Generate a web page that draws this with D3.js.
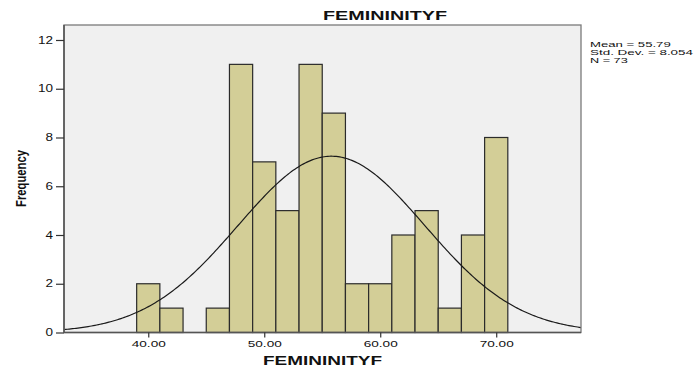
<!DOCTYPE html>
<html>
<head>
<meta charset="utf-8">
<script src="https://cdn.jsdelivr.net/npm/d3@7"></script>
<style>
  html, body { margin: 0; padding: 0; background: #fff; }
  svg { display: block; }
  text { font-family: "Liberation Sans", Arial, sans-serif; fill: #111; }
</style>
</head>
<body>
<svg id="chart" width="697" height="371"></svg>
<script>
// ---- Data ----
const binStarts = [39, 41, 43, 45, 47, 49, 51, 53, 55, 57, 59, 61, 63, 65, 67, 69];
const binWidth = 2;
const frequencies = [2, 1, 0, 1, 11, 7, 5, 11, 9, 2, 2, 4, 5, 1, 4, 8];
const xTicks = [40, 50, 60, 70];
const xTickLabels = ["40.00", "50.00", "60.00", "70.00"];
const yTicks = [0, 2, 4, 6, 8, 10, 12];
const statsMean = 55.79;
const statsSD = 8.054;
const statsN = 73;
const statsLines = ["Mean = 55.79", "Std. Dev. = 8.054", "N = 73"];
const titleText = "FEMININITYF";
const xLabel = "FEMININITYF";
const yLabel = "Frequency";

// ---- Layout ----
const plot = { left: 64, right: 581, top: 25, bottom: 332.5 };
const svg = d3.select("#chart");

const x = d3.scaleLinear().domain([32.735, 77.31]).range([plot.left, plot.right]);
const y = d3.scaleLinear().domain([0, 12.615]).range([plot.bottom, plot.top]);

// background
svg.append("rect")
  .attr("x", plot.left).attr("y", plot.top)
  .attr("width", plot.right - plot.left).attr("height", plot.bottom - plot.top)
  .attr("fill", "#f0f0f0");

// bars
const bins = binStarts.map((s, i) => ({ x0: s, x1: s + binWidth, f: frequencies[i] }));
svg.append("g").selectAll("rect")
  .data(bins.filter(d => d.f > 0))
  .join("rect")
  .attr("x", d => x(d.x0))
  .attr("y", d => y(d.f))
  .attr("width", d => x(d.x1) - x(d.x0))
  .attr("height", d => y(0) - y(d.f))
  .attr("fill", "#d3ce97")
  .attr("stroke", "#2b2b2b")
  .attr("stroke-width", 1.2);

// normal curve from mean / sd / N
const pdf = v => Math.exp(-0.5 * Math.pow((v - statsMean) / statsSD, 2)) / (statsSD * Math.sqrt(2 * Math.PI));
const xs = d3.range(0, 301).map(i => x.domain()[0] + (x.domain()[1] - x.domain()[0]) * i / 300);
const curve = d3.line().x(v => x(v)).y(v => y(statsN * binWidth * pdf(v)));
svg.append("path")
  .attr("d", curve(xs))
  .attr("fill", "none")
  .attr("stroke", "#1a1a1a")
  .attr("stroke-width", 1.2);

// frame
svg.append("rect")
  .attr("x", plot.left).attr("y", plot.top)
  .attr("width", plot.right - plot.left).attr("height", plot.bottom - plot.top)
  .attr("fill", "none")
  .attr("stroke", "#7a7a7a")
  .attr("stroke-width", 1.3);
// darker axes lines
svg.append("line").attr("x1", plot.left).attr("x2", plot.left).attr("y1", plot.top).attr("y2", plot.bottom)
  .attr("stroke", "#555").attr("stroke-width", 1.6);
svg.append("line").attr("x1", plot.left).attr("x2", plot.right).attr("y1", plot.bottom).attr("y2", plot.bottom)
  .attr("stroke", "#555").attr("stroke-width", 1.6);

// y axis
const yAxis = d3.axisLeft(y).tickValues(yTicks).tickSize(8).tickPadding(3).tickSizeOuter(0);
const gy = svg.append("g").attr("transform", `translate(${plot.left},0)`).call(yAxis);
gy.select(".domain").remove();
gy.selectAll(".tick line").attr("stroke", "#333").attr("stroke-width", 1.2);
gy.selectAll(".tick text")
  .attr("font-size", 10)
  .attr("fill", "#222")
  .attr("font-family", "Liberation Sans, Arial, sans-serif")
  .each(function(d) {
    const s = String(d);
    d3.select(this).attr("textLength", s.length * 7.5).attr("lengthAdjust", "spacingAndGlyphs");
  });

// x axis
const xAxis = d3.axisBottom(x).tickValues(xTicks)
  .tickFormat((d, i) => xTickLabels[i]).tickSize(5).tickPadding(3).tickSizeOuter(0);
const gx = svg.append("g").attr("transform", `translate(0,${plot.bottom})`).call(xAxis);
gx.select(".domain").remove();
gx.selectAll(".tick line").attr("stroke", "#333").attr("stroke-width", 1.2);
gx.selectAll(".tick text")
  .attr("font-size", 9)
  .attr("fill", "#222")
  .attr("font-family", "Liberation Sans, Arial, sans-serif")
  .attr("textLength", 34).attr("lengthAdjust", "spacingAndGlyphs");

// title
svg.append("text")
  .attr("x", 385).attr("y", 20)
  .attr("text-anchor", "middle")
  .attr("font-size", 13.5).attr("font-weight", "bold")
  .attr("textLength", 124).attr("lengthAdjust", "spacingAndGlyphs")
  .text(titleText);

// x label
svg.append("text")
  .attr("x", (plot.left + plot.right) / 2).attr("y", 365)
  .attr("text-anchor", "middle")
  .attr("font-size", 13.5).attr("font-weight", "bold")
  .attr("textLength", 119).attr("lengthAdjust", "spacingAndGlyphs")
  .text(xLabel);

// y label
svg.append("text")
  .attr("transform", "translate(25.5,178.5) rotate(-90)")
  .attr("text-anchor", "middle")
  .attr("font-size", 14).attr("font-weight", "bold")
  .attr("textLength", 57).attr("lengthAdjust", "spacingAndGlyphs")
  .text(yLabel);

// stats
const statWidths = [80.7, 103, 37.7];
svg.append("g").selectAll("text")
  .data(statsLines)
  .join("text")
  .attr("x", 590)
  .attr("y", (d, i) => 46.5 + i * 8)
  .attr("font-size", 8)
  .attr("fill", "#222")
  .attr("textLength", (d, i) => statWidths[i])
  .attr("lengthAdjust", "spacingAndGlyphs")
  .text(d => d);
</script>
</body>
</html>
